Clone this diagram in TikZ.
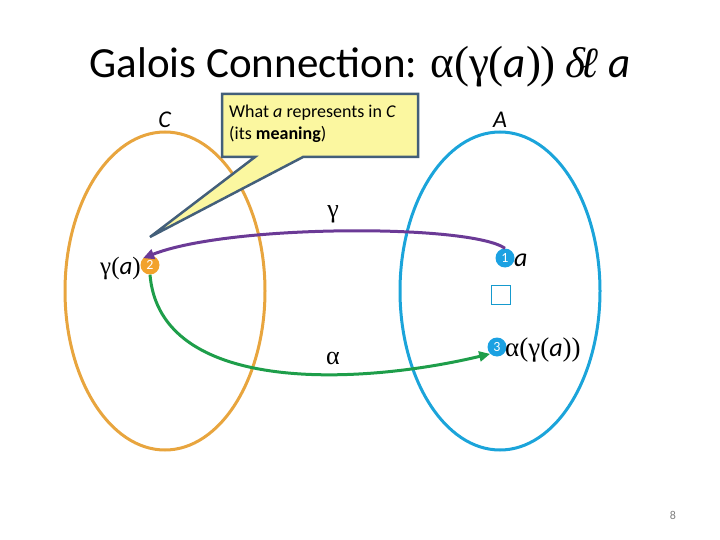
\documentclass[tikz,border=0pt]{standalone}
\usepackage{fontspec}
\setmainfont{Carlito}
\newfontfamily\grk{Liberation Serif}
\usetikzlibrary{arrows.meta}
\definecolor{corange}{HTML}{E8A53E}
\definecolor{cblue}{HTML}{1BA4DA}
\definecolor{cpurple}{HTML}{6B3A96}
\definecolor{cgreen}{HTML}{1E9E4A}
\definecolor{cnode}{HTML}{1BA1E2}
\definecolor{cnodeo}{HTML}{F2A22C}
\definecolor{callfill}{HTML}{FBF7A0}
\definecolor{callline}{HTML}{435F7A}
\tikzset{
  setell/.style={line width=3pt},
  numdot/.style={circle,inner sep=0pt,minimum size=19pt,text=white,font=\fontsize{14}{14}\selectfont},
  arc/.style={line width=3pt,-{Triangle[length=11pt,width=10pt]}},
  lbl/.style={inner sep=0pt,anchor=base},
}
\begin{document}
\begin{tikzpicture}[x=1pt,y=-1pt]
\useasboundingbox (0,0) rectangle (720,540);
% title
\node[lbl] (title) at (360,78) {\fontsize{43}{43}\selectfont Galois Connection: {\grk\fontsize{45}{45}\selectfont α(γ(}\textit{a}{\grk\fontsize{45}{45}\selectfont ))} {\grk\itshape δ\kern-0.12emℓ} \textit{a}};
% sets
\draw[setell,corange] (165,291) ellipse [x radius=100, y radius=159];
\draw[setell,cblue] (500,291) ellipse [x radius=100, y radius=159];
\node[lbl] (C) at (165,128) {\fontsize{24}{24}\selectfont\textit{C}};
\node[lbl] (A) at (500,128) {\fontsize{24}{24}\selectfont\textit{A}};
% callout
\draw[line width=2.5pt,callline,fill=callfill,line join=miter]
  (222,94) -- (418,94) -- (418,157) -- (303,157) -- (150,237) -- (255,157) -- (222,157) -- cycle;
\node[anchor=north west,inner sep=0pt,align=left,font=\fontsize{18}{22}\selectfont] (note) at (229,105)
  {What \textit{a} represents in \textit{C}\\(its \textbf{meaning})};
% points
\node[numdot,fill=cnode] (n1) at (505,258) {1};
\node[numdot,fill=cnodeo] (n2) at (150,265) {2};
\node[numdot,fill=cnode] (n3) at (497,347) {3};
\node[lbl,anchor=base west] (la) at (514,266) {\fontsize{26}{26}\selectfont\textit{a}};
\node[lbl,anchor=base east] (lga) at (141,274) {\fontsize{25}{25}\selectfont{\grk γ(}\textit{a}{\grk )}};
\node[lbl,anchor=base west] (laga) at (505,356) {\fontsize{26}{26}\selectfont{\grk\fontsize{27}{27}\selectfont α(γ(}\textit{a}{\grk\fontsize{27}{27}\selectfont ))}};
\node[draw=cnode!80!teal,line width=1.8pt,minimum size=19pt,inner sep=0pt] (sq) at (501,295) {};
% arcs
\draw[arc,cpurple] (n1.north) .. controls (470,224) and (230,224) .. (n2.north west);
\draw[arc,cgreen] (n2.south) .. controls (160,395) and (360,385) .. (n3.south west);
\node[lbl] (lgam) at (333,218) {\fontsize{26}{26}\selectfont\grk γ};
\node[lbl] (lalp) at (333,364) {\fontsize{26}{26}\selectfont\grk α};
% page number
\node[lbl,text=gray] (pg) at (673,519) {\fontsize{12}{12}\selectfont 8};
\end{tikzpicture}
\end{document}
